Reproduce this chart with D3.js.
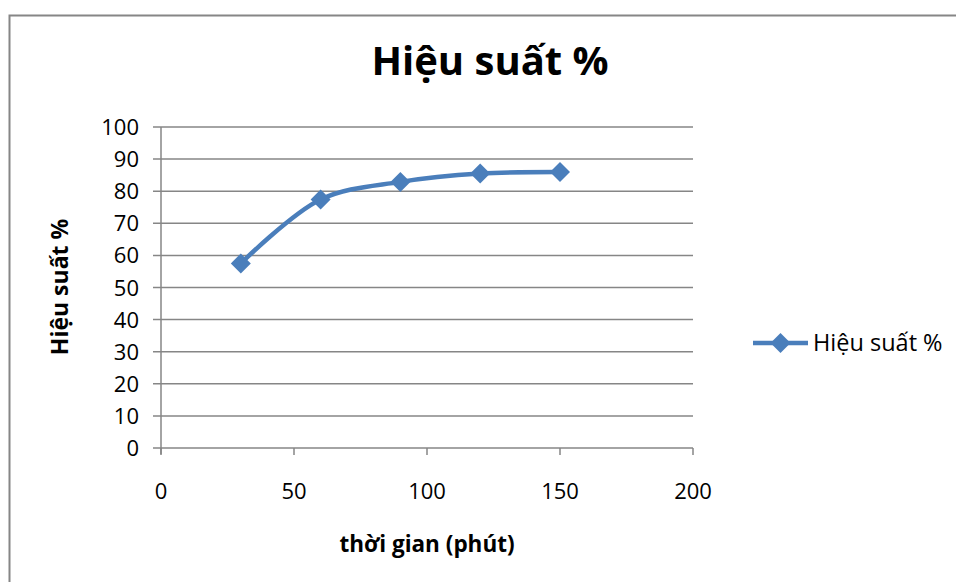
<!DOCTYPE html>
<html>
<head>
<meta charset="utf-8">
<script src="https://cdn.jsdelivr.net/npm/d3@7"></script>
<style>
  body { margin: 0; background: #fff; }
  text { font-family: "Open Sans", sans-serif; fill: #000; }
</style>
</head>
<body>
<div id="chart-area"></div>
<script>
var times = [30, 60, 90, 120, 150];
var hieuSuat = [57.5, 77.4, 82.9, 85.5, 86.0];
var xTicks = [0, 50, 100, 150, 200];
var yTicks = [0, 10, 20, 30, 40, 50, 60, 70, 80, 90, 100];
var seriesName = "Hiệu suất %";

var margin = {top: 127, left: 161, bottom: 134, right: 263},
    width = 956 - margin.left - margin.right,
    height = 582 - margin.top - margin.bottom;

var svg = d3.select("#chart-area").append("svg")
    .attr("width", 956)
    .attr("height", 582);

// chart border
svg.append("rect")
    .attr("x", 9.5).attr("y", 15.5)
    .attr("width", 960).attr("height", 600)
    .attr("fill", "none").attr("stroke", "#868686").attr("stroke-width", 2);

var g = svg.append("g")
    .attr("transform", "translate(" + margin.left + ", " + margin.top + ")");

var x = d3.scaleLinear().domain([0, 200]).range([0, width]);
var y = d3.scaleLinear().domain([0, 100]).range([height, 0]);

// gridlines
g.selectAll(".grid").data(yTicks).enter().append("line")
    .attr("x1", -8).attr("x2", width)
    .attr("y1", (d) => y(d)).attr("y2", (d) => y(d))
    .attr("stroke", "#868686").attr("stroke-width", 1.5);

// y axis line
g.append("line")
    .attr("x1", 0).attr("x2", 0).attr("y1", 0).attr("y2", height + 6)
    .attr("stroke", "#868686").attr("stroke-width", 1.5);

// x ticks
g.selectAll(".xtick").data(xTicks).enter().append("line")
    .attr("x1", (d) => x(d)).attr("x2", (d) => x(d))
    .attr("y1", height).attr("y2", height + 7)
    .attr("stroke", "#868686").attr("stroke-width", 1.5);

g.selectAll(".xlab").data(xTicks).enter().append("text")
    .attr("x", (d) => x(d)).attr("y", height + 51)
    .attr("text-anchor", "middle").attr("font-size", 22)
    .text((d) => d);

g.selectAll(".ylab").data(yTicks).enter().append("text")
    .attr("x", -22).attr("y", (d) => y(d) + 8)
    .attr("text-anchor", "end").attr("font-size", 22)
    .text((d) => d);

// series
var line = d3.line()
    .x((d, i) => x(times[i]))
    .y((d) => y(d))
    .curve(d3.curveCatmullRom.alpha(0.5));

g.append("path")
    .datum(hieuSuat)
    .attr("d", line)
    .attr("fill", "none").attr("stroke", "#4A7EBB").attr("stroke-width", 4.5);

var diamond = d3.symbol().type(d3.symbolSquare).size(200);
g.selectAll(".pt").data(hieuSuat).enter().append("path")
    .attr("d", diamond)
    .attr("transform", (d, i) => "translate(" + x(times[i]) + "," + y(d) + ") rotate(45)")
    .attr("fill", "#4A7EBB");

// titles
svg.append("text")
    .attr("x", 490).attr("y", 75)
    .attr("text-anchor", "middle").attr("font-size", 40).attr("font-weight", "bold")
    .text(seriesName);

svg.append("text")
    .attr("x", 427).attr("y", 552)
    .attr("text-anchor", "middle").attr("font-size", 22.5).attr("font-weight", "bold")
    .text("thời gian (phút)");

svg.append("text")
    .attr("transform", "translate(68, 287) rotate(-90)")
    .attr("text-anchor", "middle").attr("font-size", 23).attr("font-weight", "bold")
    .text(seriesName);

// legend
var lg = svg.append("g").attr("transform", "translate(753, 343)");
lg.append("line").attr("x1", 0).attr("x2", 55).attr("y1", 0).attr("y2", 0)
    .attr("stroke", "#4A7EBB").attr("stroke-width", 4.5);
lg.append("path").attr("d", diamond)
    .attr("transform", "translate(27.5,0) rotate(45)")
    .attr("fill", "#4A7EBB");
lg.append("text").attr("x", 60).attr("y", 8).attr("font-size", 23.5).text(seriesName);
</script>
</body>
</html>
